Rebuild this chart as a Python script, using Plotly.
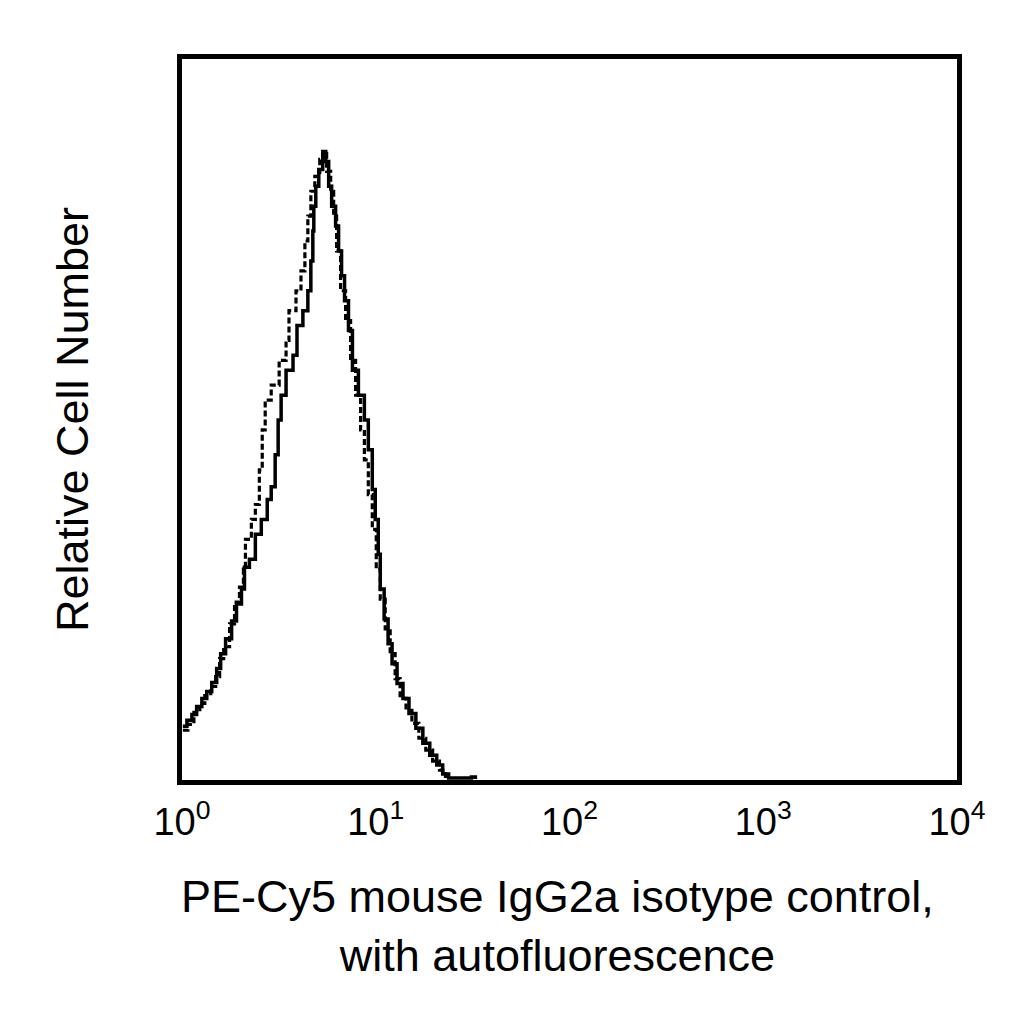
import plotly.graph_objects as go

# Flow cytometry histogram: PE-Cy5 isotype control vs autofluorescence.
# x = fluorescence intensity (log scale), y = relative cell number (% of axis height)

isotype_x = [
    1.01, 1.06, 1.125, 1.19, 1.266, 1.342, 1.424, 1.51, 1.583, 1.679,
    1.803, 1.911, 2.027, 2.101, 2.228, 2.391, 2.566, 2.754, 2.887, 3.026,
    3.135, 3.248, 3.444, 3.741, 3.922, 4.207, 4.462, 4.624, 4.734, 4.79,
    4.904, 5.081, 5.325, 5.517, 5.715, 5.921, 6.206, 6.43, 6.661, 6.901,
    7.233, 7.58, 8.137, 8.735, 9.154, 9.596, 9.94, 10.30, 10.55, 11.05,
    11.58, 12.14, 12.88, 13.82, 14.84, 16.11, 17.50, 19.0, 20.64, 22.15,
    23.77, 31.17, 32.67,
]
isotype_y = [
    7.45, 8.28, 9.10, 10.21, 11.31, 12.28, 13.52, 15.45, 17.52, 19.59,
    22.07, 24.41, 26.48, 29.52, 30.62, 34.07, 36.14, 38.90, 40.69, 45.10,
    49.93, 53.38, 56.83, 58.90, 63.03, 65.10, 67.86, 72.0, 76.14, 79.59,
    82.34, 84.69, 87.17, 85.79, 82.34, 79.59, 76.83, 73.38, 69.93, 66.48,
    62.34, 56.83, 53.38, 49.93, 45.79, 40.28, 36.14, 31.31, 26.48, 22.34,
    18.90, 16.14, 13.38, 11.31, 9.24, 7.17, 5.10, 3.45, 2.07, 0.83,
    0.28, 0.41, 0.14,
]

autofl_x = [
    1.01, 1.073, 1.152, 1.236, 1.311, 1.407, 1.492, 1.564, 1.641, 1.760,
    1.867, 1.980, 2.075, 2.125, 2.280, 2.391, 2.507, 2.595, 2.688, 2.887,
    3.173, 3.444, 3.566, 3.876, 4.112, 4.308, 4.462, 4.624, 4.848, 5.141,
    5.387, 5.580, 5.852, 6.063, 6.280, 6.584, 6.988, 7.416, 7.870, 8.353,
    8.735, 9.154, 9.596, 10.06, 10.55, 11.19, 11.87, 12.59, 13.36, 14.33,
    15.37, 16.69, 18.12, 19.66, 21.33, 22.89,
]
autofl_y = [
    6.90, 7.72, 9.38, 10.62, 11.72, 12.97, 14.34, 16.83, 18.48, 21.66,
    24.69, 26.76, 29.24, 33.38, 36.14, 38.21, 43.03, 48.55, 52.69, 54.76,
    58.21, 60.97, 65.10, 67.86, 70.62, 74.76, 78.21, 81.66, 83.72, 86.07,
    86.90, 84.41, 81.66, 78.21, 73.38, 67.86, 63.72, 58.21, 53.38, 48.55,
    44.41, 39.59, 34.76, 29.24, 25.10, 20.97, 17.52, 14.07, 11.31, 9.66,
    7.86, 5.79, 4.14, 2.62, 1.38, 0.28,
]

tick_vals = [1, 10, 100, 1000, 10000]
tick_text = ["10<sup>0</sup>", "10<sup>1</sup>", "10<sup>2</sup>", "10<sup>3</sup>", "10<sup>4</sup>"]

x_title = "PE-Cy5 mouse IgG2a isotype control,<br>with autofluorescence"
y_title = "Relative Cell Number"

FONT = "Liberation Sans, Arial, sans-serif"

fig = go.Figure()
fig.add_trace(
    go.Scatter(
        x=autofl_x, y=autofl_y, mode="lines", line_shape="hv",
        line={"color": "black", "width": 3.2, "dash": "6px,3px"},
    )
)
fig.add_trace(
    go.Scatter(
        x=isotype_x, y=isotype_y, mode="lines", line_shape="hv",
        line={"color": "black", "width": 3.5},
    )
)

# the page body adds ~8px offset, margins compensate for it
fig.update_layout(
    width=1024,
    height=1024,
    margin=dict(l=174, r=75, t=51, b=252),
    paper_bgcolor="white",
    plot_bgcolor="white",
    showlegend=False,
    hovermode=False,
    font=dict(family=FONT, color="black"),
)
fig.update_xaxes(
    type="log",
    range=[0, 4],
    tickvals=tick_vals,
    ticktext=tick_text,
    ticks="",
    ticklabelstandoff=4,
    tickfont=dict(size=38, family=FONT, color="black"),
    showgrid=False,
    zeroline=False,
    showline=True,
    linecolor="black",
    linewidth=5,
    mirror=True,
)
fig.update_yaxes(
    range=[0, 100],
    showticklabels=False,
    ticks="",
    showgrid=False,
    zeroline=False,
    showline=True,
    linecolor="black",
    linewidth=5,
    mirror=True,
    title=dict(
        text=y_title,
        font=dict(size=45, family=FONT, color="black"),
        standoff=76,
    ),
)
# x title sits a little left of the plot centre in the original
fig.add_annotation(
    text=x_title,
    xref="paper", yref="paper",
    x=0.484, y=-0.203,
    xanchor="center", yanchor="middle",
    showarrow=False,
    font=dict(size=45, family=FONT, color="black"),
)

fig.write_html("out.html", config={"displayModeBar": False})
